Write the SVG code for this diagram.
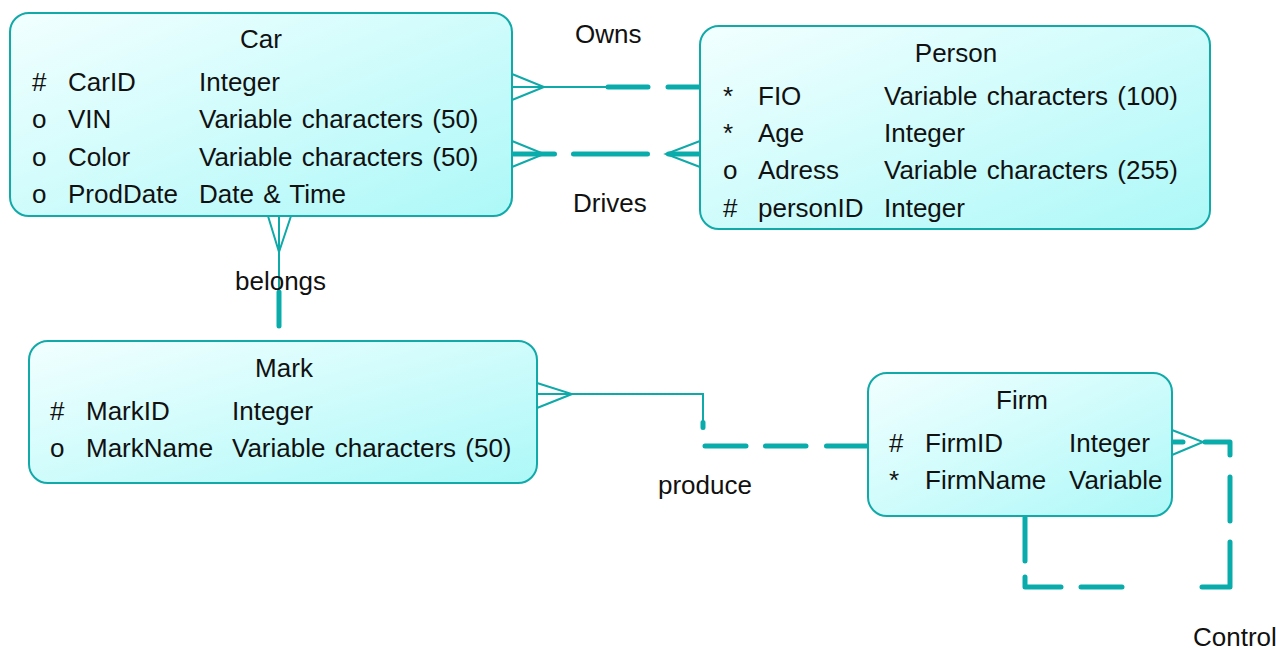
<svg xmlns="http://www.w3.org/2000/svg" width="1276" height="648" viewBox="0 0 1276 648">
  <style>
    .box { fill: url(#entityFill); stroke: #12a9a9; stroke-width: 2; }
    text { font-family: "Liberation Sans", Arial, sans-serif; font-size: 26px; fill: #111; word-spacing: 2px; }
    .title { text-anchor: middle; }
    .thin { fill: none; stroke: #0fa9a9; stroke-width: 2; stroke-linejoin: miter; }
    .thick { fill: none; stroke: #0aabab; stroke-width: 5; stroke-linecap: round; stroke-linejoin: round; }
  </style>
  <defs>
    <linearGradient id="entityFill" x1="0" y1="0" x2="1" y2="1">
      <stop offset="0" stop-color="#f2ffff"/>
      <stop offset="1" stop-color="#adf8f8"/>
    </linearGradient>
    <clipPath id="firmClip">
      <rect x="868" y="373" width="294" height="143"/>
    </clipPath>
  </defs>

  <rect width="1276" height="648" fill="#ffffff"/>

  <!-- relationships -->
  <g id="connectors">
    <!-- Owns: Car (many) to Person -->
    <path class="thin" d="M512 74 L544 87 L512 100 M512 87 H606"/>
    <path class="thick" d="M608 87 H648 M668 87 H700"/>

    <!-- Drives: Car (many) to Person (many) -->
    <path class="thin" d="M512 141 L544 154 L512 167 M700 141 L666 154 L700 167"/>
    <path class="thick" d="M512 154 H554.5 M573.5 154 H647.5 M668.5 154 H700"/>

    <!-- belongs: Car (many) to Mark -->
    <path class="thin" d="M268 216 L279 252 L291 216 M279 216 V290"/>
    <path class="thick" d="M279 292 V326"/>

    <!-- produce: Mark (many) to Firm -->
    <path class="thin" d="M537 383 L572 394 L537 408 M537 394 H703 V421"/>
    <path class="thick" d="M703 422.5 V427.5 M705 446 H746 M765.5 446 H806 M826.5 446 H868"/>

    <!-- Control: Firm (many) to Firm -->
    <path class="thin" d="M1172 430 L1203 442 L1172 455"/>
    <path class="thick" d="M1172 442 H1183 M1205 442 H1230 V455 M1230 477 V521 M1230 542 V587 H1202 M1122 587 H1081 M1061 587 H1025 V577 M1025 561 V516"/>
  </g>

  <!-- relationship names -->
  <g id="labels">
    <text x="575" y="42.5">Owns</text>
    <text x="573" y="211.5">Drives</text>
    <text x="235" y="289.5">belongs</text>
    <text x="658" y="494">produce</text>
    <text x="1193" y="646">Control</text>
  </g>

  <g id="car">
    <rect class="box" x="10" y="13" width="502" height="203" rx="19"/>
    <text class="title" x="261" y="47.5">Car</text>
    <text x="32" y="91">#</text><text x="68" y="91">CarID</text><text x="199" y="91">Integer</text>
    <text x="32" y="128">o</text><text x="68" y="128">VIN</text><text x="199" y="128">Variable characters (50)</text>
    <text x="32" y="165.5">o</text><text x="68" y="165.5">Color</text><text x="199" y="165.5">Variable characters (50)</text>
    <text x="32" y="203">o</text><text x="68" y="203">ProdDate</text><text x="199" y="203">Date &amp; Time</text>
  </g>

  <g id="person">
    <rect class="box" x="700" y="26" width="510" height="203" rx="19"/>
    <text class="title" x="956" y="61.5">Person</text>
    <text x="723" y="104.5">*</text><text x="758" y="104.5">FIO</text><text x="884" y="104.5">Variable characters (100)</text>
    <text x="723" y="141.5">*</text><text x="758" y="141.5">Age</text><text x="884" y="141.5">Integer</text>
    <text x="723" y="179">o</text><text x="758" y="179">Adress</text><text x="884" y="179">Variable characters (255)</text>
    <text x="723" y="216.5">#</text><text x="758" y="216.5">personID</text><text x="884" y="216.5">Integer</text>
  </g>

  <g id="mark">
    <rect class="box" x="29" y="341" width="508" height="142" rx="19"/>
    <text class="title" x="284" y="376.5">Mark</text>
    <text x="50" y="419.5">#</text><text x="86" y="419.5">MarkID</text><text x="232" y="419.5">Integer</text>
    <text x="50" y="456.5">o</text><text x="86" y="456.5">MarkName</text><text x="232" y="456.5">Variable characters (50)</text>
  </g>

  <g id="firm">
    <rect class="box" x="868" y="373" width="304" height="143" rx="19"/>
    <text class="title" x="1022" y="408.5">Firm</text>
    <g clip-path="url(#firmClip)">
      <text x="889" y="451.5">#</text><text x="925" y="451.5">FirmID</text><text x="1069" y="451.5">Integer</text>
      <text x="889" y="488.5">*</text><text x="925" y="488.5">FirmName</text><text x="1069" y="488.5">Variable characters (50)</text>
    </g>
  </g>
</svg>
